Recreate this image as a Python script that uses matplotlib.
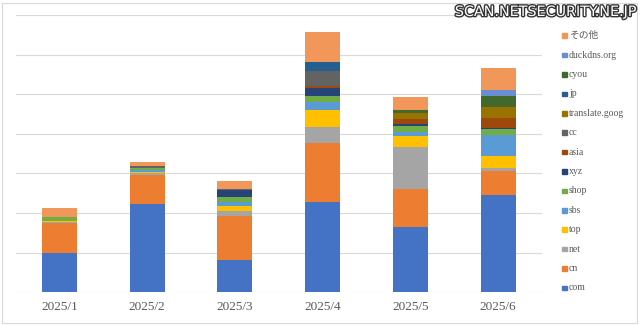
import matplotlib
matplotlib.use("Agg")
import matplotlib.pyplot as plt
import matplotlib.patheffects as pe
from matplotlib.patches import Rectangle
import numpy as np

months = ["2025/1", "2025/2", "2025/3", "2025/4", "2025/5", "2025/6"]
series_names = ["com", "cn", "net", "top", "sbs", "shop", "xyz", "asia", "cc",
                "translate.goog", "jp", "cyou", "duckdns.org", "その他"]
com = [10.0, 22.4, 8.1, 22.8, 16.6, 24.6]
cn = [7.5, 7.2, 11.1, 14.9, 9.6, 5.9]
net = [0.2, 0.4, 1.2, 4.1, 10.5, 0.9]
top = [0.3, 0.4, 1.3, 4.3, 2.7, 3.1]
sbs = [0.0, 0.4, 1.2, 2.0, 1.0, 5.3]
shop = [1.1, 0.7, 1.1, 1.4, 1.7, 1.3]
xyz = [0.0, 0.0, 1.7, 2.0, 0.4, 0.4]
asia = [0.0, 0.0, 0.0, 0.7, 1.3, 2.4]
cc = [0.0, 0.4, 0.5, 3.6, 0.0, 0.0]
translate_goog = [0.0, 0.0, 0.0, 0.0, 1.5, 2.8]
jp = [0.0, 0.0, 0.0, 2.4, 0.0, 0.0]
cyou = [0.0, 0.0, 0.0, 0.0, 0.6, 2.8]
duckdns = [0.0, 0.0, 0.0, 0.0, 0.0, 1.5]
other = [2.2, 1.1, 2.0, 7.6, 3.5, 5.5]

series_values = [com, cn, net, top, sbs, shop, xyz, asia, cc,
                 translate_goog, jp, cyou, duckdns, other]
colors = ["#4472C4", "#ED7D31", "#A5A5A5", "#FFC000", "#5B9BD5", "#70AD47",
          "#264478", "#9E480E", "#636363", "#997300", "#255E91", "#43682B",
          "#698ED0", "#F1975A"]

FONT = ["Liberation Serif", "Noto Sans CJK JP", "DejaVu Serif"]
TXT = "#595959"

fig = plt.figure(figsize=(6.4, 3.26), dpi=100)
W, H = 640, 326
ax = fig.add_axes([15.6 / W, 1 - 292.3 / H, (542 - 15.6) / W, (292.3 - 15) / H])

x = np.arange(len(months))
bottom = np.zeros(len(months))
for name, vals, c in zip(series_names, series_values, colors):
    v = np.array(vals)
    ax.bar(x, v, bottom=bottom, width=0.4, color=c, label=name, zorder=3)
    bottom += v

ax.set_xlim(-0.5, len(months) - 0.5)
ax.set_ylim(0, 70)
ax.set_yticks(np.arange(0, 71, 10))
ax.set_yticklabels([])
ax.tick_params(axis="y", length=0)
ax.tick_params(axis="x", length=0, pad=6)
ax.set_xticks(x)
ax.set_xticklabels(months, fontfamily=FONT, fontsize=9.5, color=TXT)
ax.grid(axis="y", color="#D9D9D9", lw=0.8, zorder=0)
for s in ax.spines.values():
    s.set_visible(False)

# legend (drawn manually, reversed order)
for i, (name, c) in enumerate(zip(series_names[::-1], colors[::-1])):
    yc = 35.7 + i * 19.4
    fig.patches.append(Rectangle((562 / W, 1 - (yc + 2.3) / H), 4.6 / W, 4.6 / H,
                                 transform=fig.transFigure, color=c, figure=fig))
    fig.text(569 / W, 1 - yc / H, name, fontsize=7, family=FONT, color=TXT,
             va="center", ha="left")

# chart border
fig.patches.append(Rectangle((2 / W, 3 / H), 635 / W, 320 / H, transform=fig.transFigure,
                             fill=False, edgecolor="#D9D9D9", lw=0.8, figure=fig))

# watermark
fig.text(635 / W, 1 - 12 / H, "SCAN.NETSECURITY.NE.JP", fontsize=10.3, color="white",
         ha="right", va="center", family="DejaVu Sans",
         path_effects=[pe.withStroke(linewidth=2, foreground="#333333")])

fig.savefig("out.png", dpi=100)
